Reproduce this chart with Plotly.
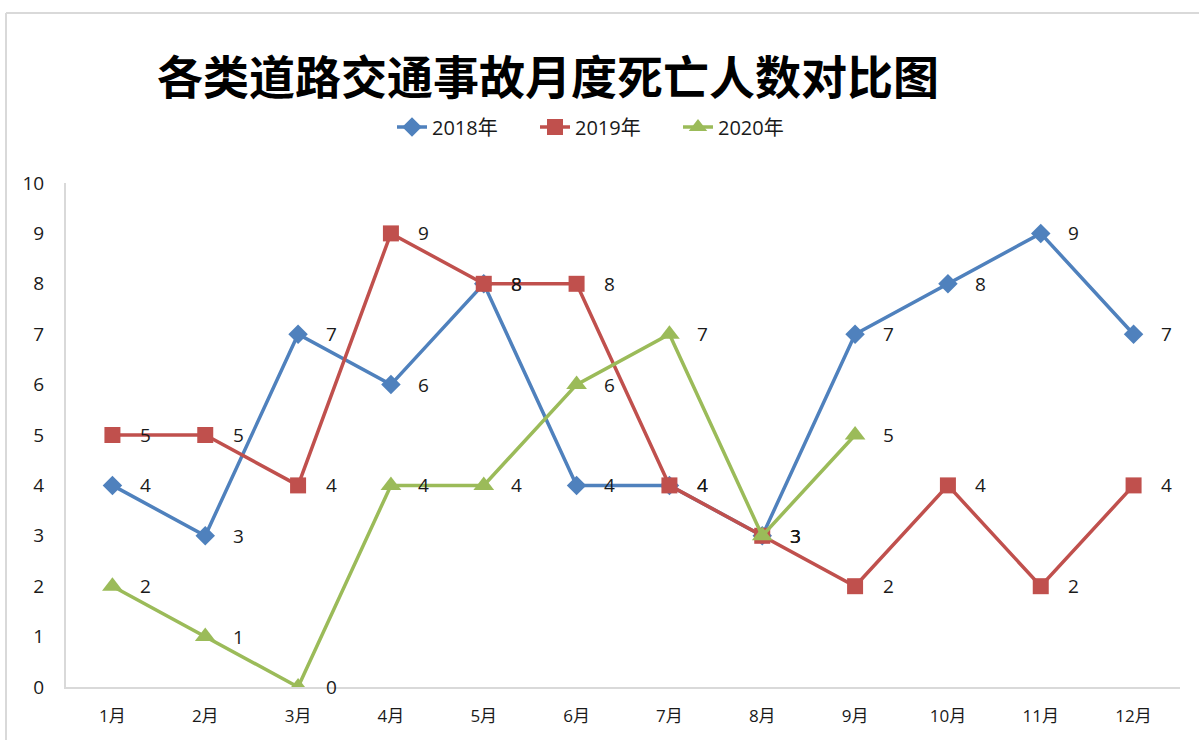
import plotly.graph_objects as go

months = ["1月", "2月", "3月", "4月", "5月", "6月", "7月", "8月", "9月", "10月", "11月", "12月"]
deaths_2018 = [4, 3, 7, 6, 8, 4, 4, 3, 7, 8, 9, 7]
deaths_2019 = [5, 5, 4, 9, 8, 8, 4, 3, 2, 4, 2, 4]
deaths_2020 = [2, 1, 0, 4, 4, 6, 7, 3, 5]
series_names = ["2018年", "2019年", "2020年"]
y_ticks = [0, 1, 2, 3, 4, 5, 6, 7, 8, 9, 10]

colors = ["#4F81BD", "#C0504D", "#9BBB59"]
symbols = ["diamond", "square", "triangle-up"]
sizes = [15, 16, 18]
FONT = "Open Sans, Noto Sans CJK SC, sans-serif"

fig = go.Figure()
annotations = []
for name, vals, c, s, sz in zip(series_names, [deaths_2018, deaths_2019, deaths_2020], colors, symbols, sizes):
    xs = months[:len(vals)]
    fig.add_trace(go.Scatter(
        x=xs, y=vals, name=name, mode="lines+markers",
        line=dict(color=c, width=3.5),
        marker=dict(symbol=s, size=sz, color=c),
    ))
    for xv, yv in zip(xs, vals):
        annotations.append(dict(x=xv, y=yv, text=str(yv), showarrow=False,
                                xshift=33, font=dict(size=19, color="#1a1a1a", family=FONT)))

annotations.append(dict(text="<b>各类道路交通事故月度死亡人数对比图</b>", xref="paper", yref="paper",
                        x=(548 - 66) / 1114, y=(687 - 74) / 504, showarrow=False,
                        xanchor="center", yanchor="middle",
                        font=dict(size=46, color="#000000", family="Noto Sans CJK SC, sans-serif")))

fig.update_layout(
    width=1199, height=740,
    margin=dict(l=66, r=19, t=183, b=53),
    paper_bgcolor="white", plot_bgcolor="white",
    showlegend=True,
    legend=dict(orientation="h", x=(392 - 66) / 1114, y=(687 - 127) / 504, xanchor="left", yanchor="middle",
                font=dict(size=20, family=FONT, color="#1a1a1a"), tracegroupgap=0,
                entrywidth=98, entrywidthmode="pixels"),
    annotations=annotations,
    font=dict(family=FONT),
    shapes=[
        dict(type="line", xref="paper", yref="paper", x0=(6 - 66) / 1114, x1=1.2,
             y0=(687 - 13) / 504, y1=(687 - 13) / 504, line=dict(color="#d9d9d9", width=2)),
        dict(type="line", xref="paper", yref="paper", x0=(6 - 66) / 1114, x1=(6 - 66) / 1114,
             y0=(687 - 13) / 504, y1=-0.3, line=dict(color="#d9d9d9", width=2)),
    ],
)
fig.update_xaxes(type="category", categoryarray=months, range=[-0.5, 11.5],
                 showgrid=False, showline=True, linecolor="#d9d9d9", linewidth=2,
                 tickfont=dict(size=17, color="#1a1a1a"), ticks="", ticklabelstandoff=13, zeroline=False)
fig.update_yaxes(range=[0, 10], tickvals=y_ticks, showgrid=False, showline=True,
                 linecolor="#d9d9d9", linewidth=2, tickfont=dict(size=19, color="#1a1a1a"),
                 ticks="", ticklabelstandoff=16, zeroline=False)

fig.write_html("out.html", config={"displayModeBar": False},
               post_script="document.body.style.margin='0';document.body.style.overflow='hidden';")
